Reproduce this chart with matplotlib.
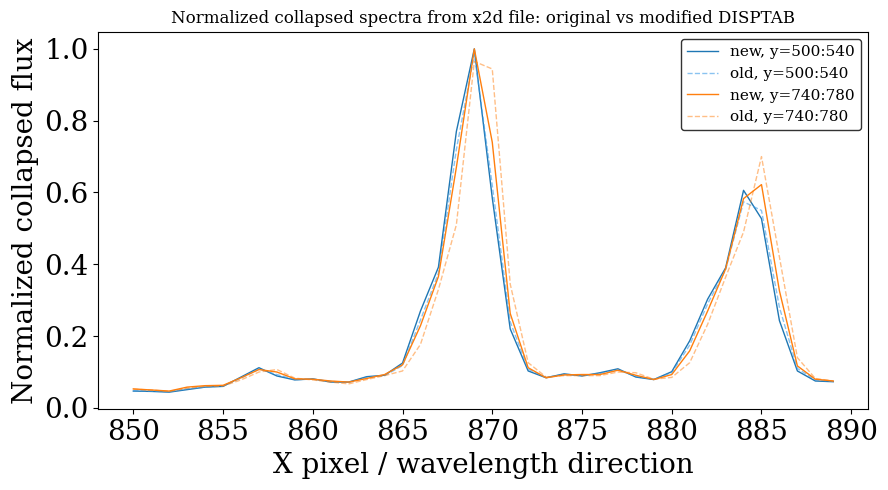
import numpy as np
import matplotlib
matplotlib.use("Agg")
import matplotlib.pyplot as plt

plt.rcParams['font.family'] = 'DejaVu Serif'

# x pixel along the wavelength direction
xpix = np.arange(850, 890)

# normalized collapsed flux, rows 500:540
new_500 = [0.047, 0.046, 0.044, 0.051, 0.058, 0.060, 0.086, 0.112, 0.089, 0.078,
           0.081, 0.072, 0.072, 0.087, 0.091, 0.125, 0.270, 0.392, 0.770, 1.000,
           0.585, 0.220, 0.103, 0.084, 0.095, 0.089, 0.098, 0.109, 0.086, 0.079,
           0.101, 0.187, 0.303, 0.390, 0.606, 0.527, 0.243, 0.103, 0.075, 0.073]
old_500 = [0.048, 0.047, 0.045, 0.053, 0.058, 0.061, 0.083, 0.108, 0.093, 0.079,
           0.080, 0.074, 0.071, 0.085, 0.090, 0.118, 0.245, 0.375, 0.720, 0.985,
           0.620, 0.240, 0.108, 0.085, 0.093, 0.090, 0.096, 0.106, 0.088, 0.080,
           0.098, 0.175, 0.290, 0.385, 0.574, 0.550, 0.280, 0.110, 0.078, 0.074]

# normalized collapsed flux, rows 740:780
new_740 = [0.053, 0.050, 0.047, 0.058, 0.062, 0.063, 0.084, 0.107, 0.100, 0.081,
           0.080, 0.075, 0.072, 0.082, 0.093, 0.120, 0.229, 0.366, 0.670, 1.000,
           0.740, 0.263, 0.112, 0.084, 0.092, 0.093, 0.093, 0.105, 0.091, 0.079,
           0.093, 0.159, 0.270, 0.387, 0.583, 0.622, 0.326, 0.117, 0.080, 0.075]
old_740 = [0.052, 0.050, 0.046, 0.055, 0.060, 0.061, 0.078, 0.100, 0.107, 0.083,
           0.078, 0.072, 0.067, 0.079, 0.090, 0.103, 0.177, 0.330, 0.510, 0.965,
           0.944, 0.345, 0.126, 0.086, 0.090, 0.090, 0.090, 0.100, 0.098, 0.080,
           0.085, 0.126, 0.233, 0.364, 0.490, 0.700, 0.420, 0.140, 0.082, 0.075]

fig = plt.figure(figsize=(8.88, 4.90), dpi=100)
ax = fig.add_axes([0.1107, 0.1647, 0.8671, 0.7706])

ax.plot(xpix, new_500, color='C0', lw=1.0, label='new, y=500:540')
ax.plot(xpix, old_500, color='#3c9be6', lw=1.0, ls='--', alpha=0.6, label='old, y=500:540')
ax.plot(xpix, new_740, color='C1', lw=1.0, label='new, y=740:780')
ax.plot(xpix, old_740, color='C1', lw=1.0, ls='--', alpha=0.5, label='old, y=740:780')

ax.set_title('Normalized collapsed spectra from x2d file: original vs modified DISPTAB', fontsize=12)
ax.set_xlabel('X pixel / wavelength direction', fontsize=20)
ax.set_ylabel('Normalized collapsed flux', fontsize=20)
ax.tick_params(labelsize=20)

leg = ax.legend(loc='upper right', fontsize=11, framealpha=1)
leg.get_frame().set_edgecolor('0.2')

fig.savefig('out.png', dpi=100)
